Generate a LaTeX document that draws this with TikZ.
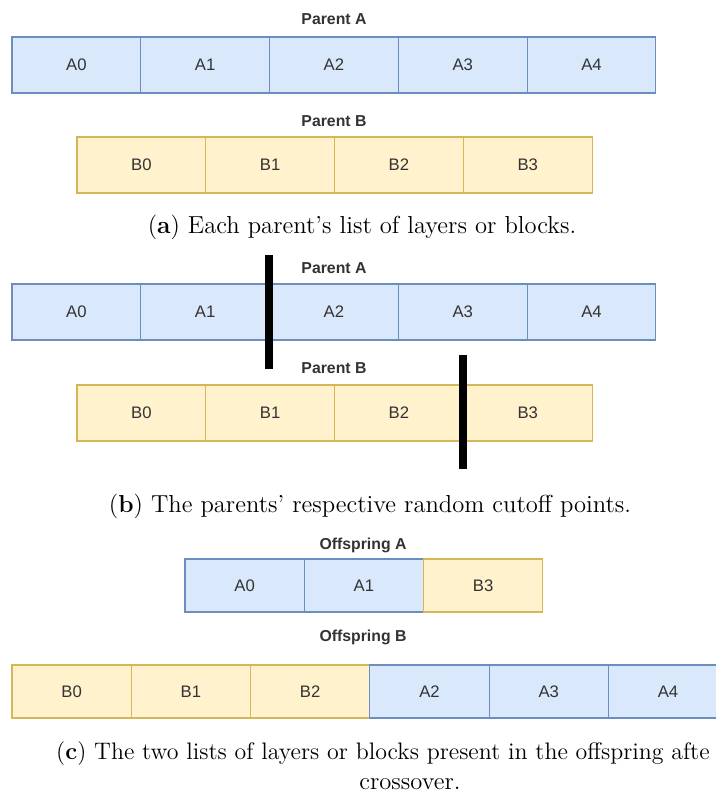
\documentclass[tikz,border=0pt]{standalone}
\usepackage{fontspec}
\usepackage{tikz}
\usetikzlibrary{positioning}
\newfontfamily\drawfont{Liberation Sans}

\definecolor{bluefill}{HTML}{DAE8FC}
\definecolor{bluedraw}{HTML}{6C8EBF}
\definecolor{yellowfill}{HTML}{FFF2CC}
\definecolor{yellowdraw}{HTML}{D6B656}

\tikzset{
	cell/.style={rectangle, minimum width=2.576cm, minimum height=1.12cm, inner sep=0pt, outer sep=0pt, font=\drawfont\fontsize{9.5}{11}\selectfont, text=black!80},
	kidcell/.style={cell, minimum width=2.386cm, minimum height=1.06cm},
	bluecell/.style={draw=bluedraw, fill=bluefill, line width=0.6pt},
	yellowcell/.style={draw=yellowdraw, fill=yellowfill, line width=0.6pt},
	rowtitle/.style={font=\drawfont\bfseries\fontsize{9}{11}\selectfont, text=black!80},
	caption/.style={font=\fontsize{14}{16}\selectfont},
	cutline/.style={line width=4pt, black}
}

\begin{document}
\begin{tikzpicture}[x=0.02cm, y=-0.02cm, node distance=0pt]
	  		\useasboundingbox (0,0) rectangle (716,796);
	  		\clip (0,0) rectangle (716,796);
	  		
	  		% (a) the two parents
	  		\node[rowtitle]		(TA)	at (334,19)	{Parent A};
	  		\node[cell, bluecell, anchor=north west]	(A0)	at (12,37)		{A0};
	  		\node[cell, bluecell]	(A1) [right=of A0]	{A1};
	  		\node[cell, bluecell]	(A2) [right=of A1]	{A2};
	  		\node[cell, bluecell]	(A3) [right=of A2]	{A3};
	  		\node[cell, bluecell]	(A4) [right=of A3]	{A4};
	  		\node[rowtitle]		(TB)	at (334,121)	{Parent B};
	  		\node[cell, yellowcell, anchor=north west]	(B0)	at (77,137)	{B0};
	  		\node[cell, yellowcell]	(B1) [right=of B0]	{B1};
	  		\node[cell, yellowcell]	(B2) [right=of B1]	{B2};
	  		\node[cell, yellowcell]	(B3) [right=of B2]	{B3};
	  		\node[caption]		(CAPA)	at (362,227)	{(\textbf{a}) Each parent’s list of layers or blocks.};
	  		
	  		% (b) the cutoff points
	  		\node[rowtitle]		(TA2)	at (334,268)	{Parent A};
	  		\node[cell, bluecell, anchor=north west]	(A0b)	at (12,284)	{A0};
	  		\node[cell, bluecell]	(A1b) [right=of A0b]	{A1};
	  		\node[cell, bluecell]	(A2b) [right=of A1b]	{A2};
	  		\node[cell, bluecell]	(A3b) [right=of A2b]	{A3};
	  		\node[cell, bluecell]	(A4b) [right=of A3b]	{A4};
	  		\node[rowtitle]		(TB2)	at (334,368)	{Parent B};
	  		\node[cell, yellowcell, anchor=north west]	(B0b)	at (77,385)	{B0};
	  		\node[cell, yellowcell]	(B1b) [right=of B0b]	{B1};
	  		\node[cell, yellowcell]	(B2b) [right=of B1b]	{B2};
	  		\node[cell, yellowcell]	(B3b) [right=of B2b]	{B3};
	  		\draw[cutline]	(269,255) -- (269,369);
	  		\draw[cutline]	(463,355) -- (463,469);
	  		\node[caption]		(CAPB)	at (370,506)	{(\textbf{b}) The parents’ respective random cutoff points.};
	  		
	  		% (c) the offspring
	  		\node[rowtitle]		(TOA)	at (363,545)	{Offspring A};
	  		\node[kidcell, bluecell, anchor=north west]	(OA0)	at (185,559)	{A0};
	  		\node[kidcell, bluecell]	(OA1) [right=of OA0]	{A1};
	  		\node[kidcell, yellowcell]	(OA2) [right=of OA1]	{B3};
	  		\node[rowtitle]		(TOB)	at (363,637)	{Offspring B};
	  		\node[kidcell, yellowcell, anchor=north west]	(OB0)	at (12,665)	{B0};
	  		\node[kidcell, yellowcell]	(OB1) [right=of OB0]	{B1};
	  		\node[kidcell, yellowcell]	(OB2) [right=of OB1]	{B2};
	  		\node[kidcell, bluecell]	(OB3) [right=of OB2]	{A2};
	  		\node[kidcell, bluecell]	(OB4) [right=of OB3]	{A3};
	  		\node[kidcell, bluecell]	(OB5) [right=of OB4]	{A4};
	  		\node[caption, anchor=west, font=\fontsize{13.6}{16}\selectfont]	(CAPC)	at (50,754)	{(\textbf{c}) The two lists of layers or blocks present in the offspring afte};
	  		\node[caption]		(CAPC2)	at (410,784)	{crossover.};
\end{tikzpicture}
\end{document}
